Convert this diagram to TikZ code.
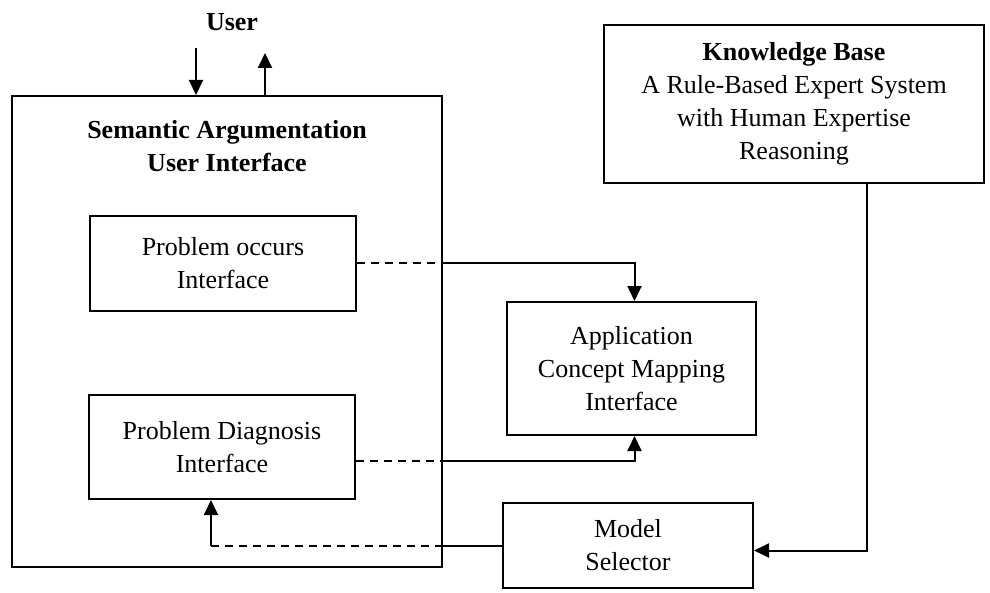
\documentclass[tikz,border=0pt]{standalone}
\usepackage{fontspec}
\setmainfont{Liberation Serif}
\usetikzlibrary{arrows.meta}

\begin{document}
\begin{tikzpicture}[x=0.5pt, y=-0.5pt, line width=1pt,
  >={Triangle[length=7.5pt,width=7pt]},
  every node/.style={font=\fontsize{13}{16.5}\selectfont, align=center},
  box/.style={draw, line width=1pt, inner sep=0pt},
  link/.style={dash pattern=on 4pt off 3pt}]
\useasboundingbox (0,0) rectangle (990,593);

% Interface blocks
\node[box, minimum width=215pt, minimum height=235.5pt] (ui) at (227, 331.5) {};
\node (title) at (227, 146) {\textbf{Semantic Argumentation}\\ \textbf{User Interface}};
\node (user) at (232, 22) {\textbf{User}};

\node[box, minimum width=133pt, minimum height=47.5pt] (occurs) at (223, 263.5) {Problem occurs\\ Interface};
\node[box, minimum width=133pt, minimum height=52pt] (diag) at (222, 447) {Problem Diagnosis\\ Interface};

\node[box, minimum width=124.5pt, minimum height=66.5pt] (app) at (631.5, 368.5) {Application\\ Concept Mapping\\ Interface};

\node[box, minimum width=190pt, minimum height=79pt] (kb) at (794, 104) {\textbf{Knowledge Base}\\ A Rule-Based Expert System\\ with Human Expertise\\ Reasoning};

\node[box, minimum width=125pt, minimum height=42.5pt] (sel) at (628, 545.5) {Model\\ Selector};

% Arrows
\coordinate (uin) at (196, 48);
\coordinate (uout) at (265, 53);
\draw[->] (uin) -- (uin |- ui.north);
\draw[->] (uout |- ui.north) -- (uout);

\draw[link] (occurs.east) -- (occurs.east -| ui.east);
\draw[->] (occurs.east -| ui.east) -| ([xshift=1.5pt]app.north);

\coordinate (dout) at ([yshift=-7pt]diag.east);
\draw[link] (dout) -- (dout -| ui.east);
\draw[->] (dout -| ui.east) -| ([xshift=1.5pt]app.south);

\coordinate (kbout) at (867, 183);
\draw[->] (kbout) |- ([yshift=-2.5pt]sel.east);

\coordinate (bend) at (211, 545.5);
\draw (sel.west) -- (sel.west -| ui.east);
\draw[link] (sel.west -| ui.east) -- (bend);
\draw[->] (bend) -- (bend |- diag.south);
\end{tikzpicture}
\end{document}
